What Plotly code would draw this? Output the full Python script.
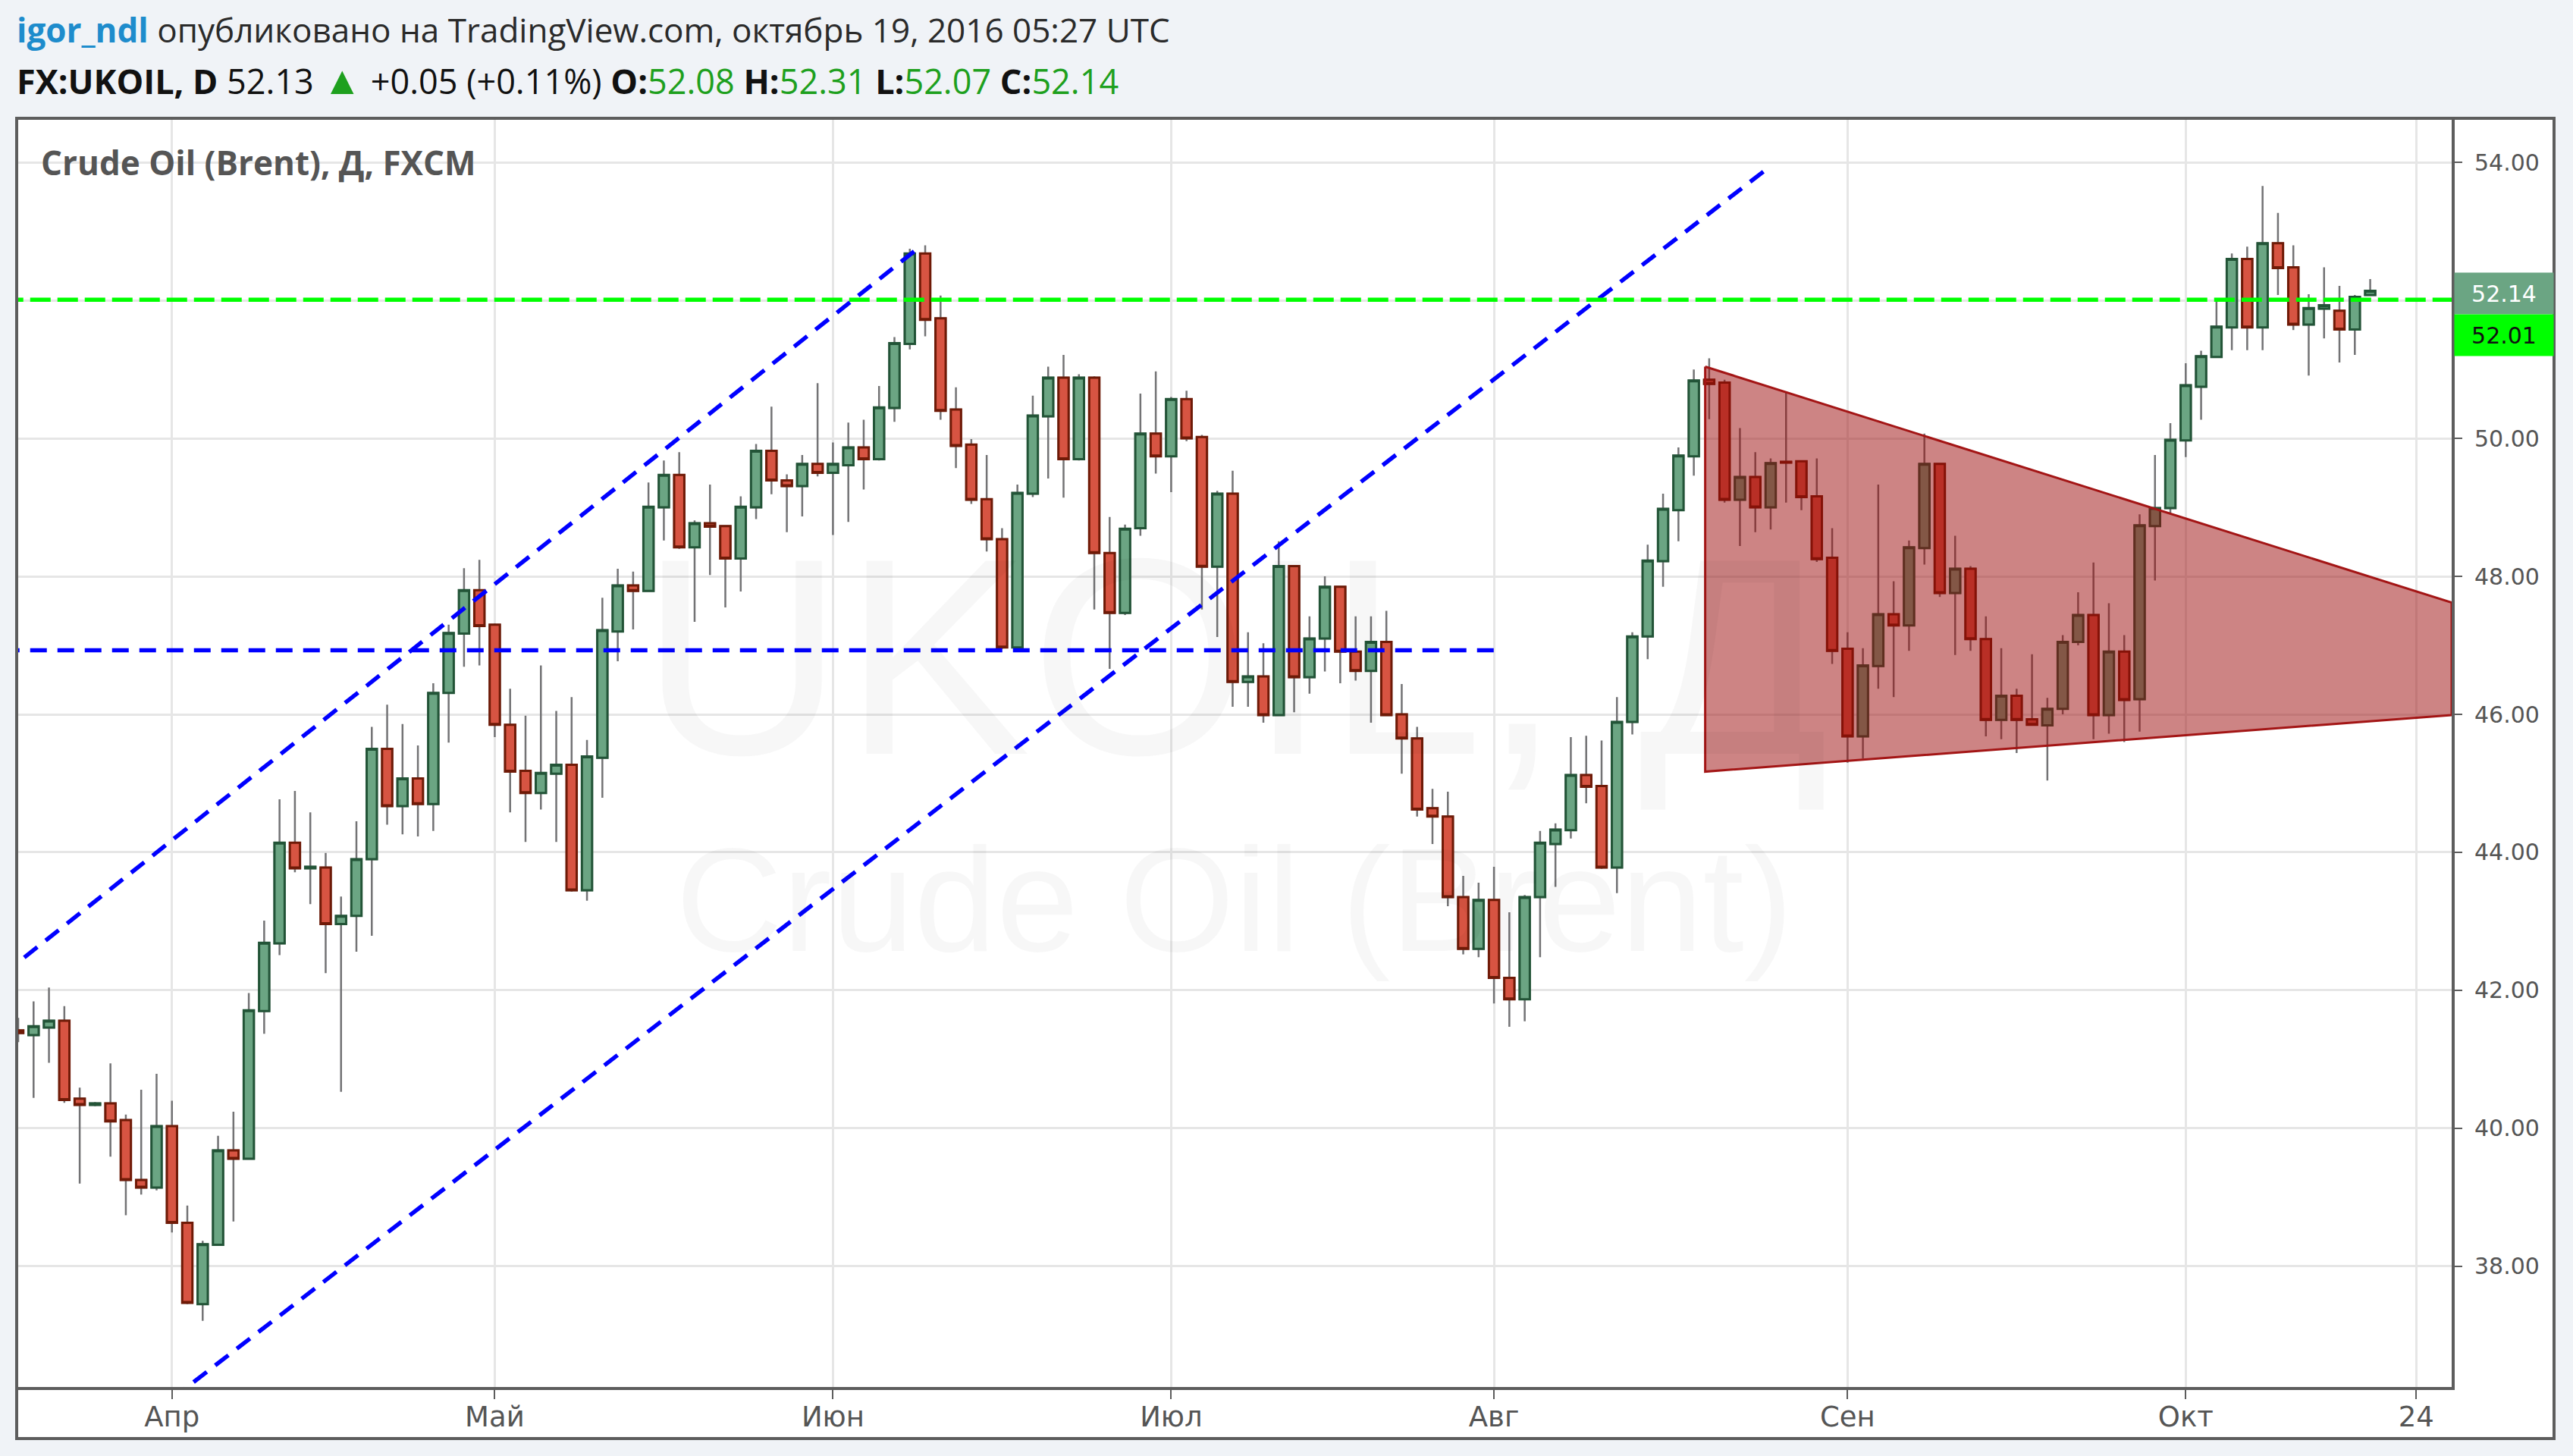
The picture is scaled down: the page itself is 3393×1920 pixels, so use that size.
import plotly.graph_objects as go
import pandas as pd

# ---------------- data ----------------
# trading days (weekdays) of the daily chart, FX:UKOIL
dates = pd.bdate_range("2016-03-18", "2016-10-31")

open_ = [41.42, 41.35, 41.46, 41.56, 40.43, 40.34, 40.36, 40.12, 39.25, 39.14,
         40.03, 38.63, 37.45, 38.31, 39.68, 39.56, 41.70, 42.68, 44.14, 43.77,
         43.78, 42.96, 43.08, 43.90, 45.50, 44.67, 45.07, 44.70, 46.31, 47.17,
         47.80, 47.30, 45.85, 45.18, 44.86, 45.14, 45.27, 43.45, 45.37, 47.20,
         47.87, 47.79, 49.00, 49.47, 48.42, 48.77, 48.73, 48.26, 49.00, 49.82,
         49.39, 49.31, 49.63, 49.50, 49.61, 49.87, 49.70, 50.44, 51.37, 52.68,
         51.74, 50.42, 49.91, 49.12, 48.54, 46.97, 49.20, 50.32, 50.88, 49.70,
         50.88, 48.34, 47.47, 48.70, 50.07, 49.74, 50.57, 50.02, 48.14, 49.20,
         46.47, 46.55, 45.99, 48.15, 46.54, 47.10, 47.85, 46.91, 46.63, 47.05,
         46.00, 45.65, 44.64, 44.52, 43.35, 42.60, 43.31, 42.18, 41.87, 43.35,
         44.12, 44.32, 45.12, 44.96, 43.78, 45.89, 47.13, 48.22, 48.96, 49.74,
         50.85, 50.81, 49.11, 49.44, 49.00, 49.66, 49.67, 49.16, 48.27, 46.95,
         45.68, 46.70, 47.45, 47.29, 48.41, 49.63, 47.76, 48.11, 47.09, 45.92,
         46.27, 45.93, 45.84, 46.08, 47.05, 47.44, 45.99, 46.91, 46.22, 48.73,
         48.99, 49.97, 50.75, 51.18, 51.61, 52.60, 51.61, 52.83, 52.48, 51.65,
         51.88, 51.85, 51.58, 52.08]
high = [41.60, 41.84, 42.04, 41.77, 40.59, 40.38, 40.94, 40.20, 40.56, 40.79,
        40.40, 38.88, 38.37, 39.89, 40.24, 41.96, 43.01, 44.77, 44.89, 44.58,
        43.99, 43.36, 44.45, 45.82, 46.14, 45.86, 45.55, 46.45, 47.30, 48.12,
        48.24, 47.32, 46.37, 45.98, 46.71, 46.05, 46.25, 45.63, 47.69, 48.11,
        48.07, 49.36, 49.68, 49.80, 48.81, 49.33, 48.74, 49.16, 49.92, 50.46,
        49.48, 49.76, 50.80, 49.94, 50.23, 50.27, 50.76, 51.47, 52.75, 52.80,
        52.07, 50.74, 49.99, 49.76, 48.70, 49.33, 50.62, 51.04, 51.21, 50.93,
        50.90, 48.86, 48.75, 50.65, 50.97, 50.60, 50.69, 50.05, 49.24, 49.53,
        47.19, 47.03, 48.51, 48.16, 47.42, 48.00, 47.86, 47.42, 47.42, 47.50,
        46.44, 45.82, 44.92, 44.88, 43.66, 43.56, 43.79, 43.13, 43.38, 44.31,
        44.42, 45.67, 45.69, 45.62, 46.25, 47.19, 48.46, 49.20, 49.87, 51.00,
        51.16, 50.85, 50.15, 49.80, 49.71, 50.66, 49.68, 49.71, 48.70, 47.19,
        46.96, 49.33, 47.93, 48.52, 50.07, 49.64, 48.59, 48.15, 47.42, 46.96,
        46.37, 46.87, 46.24, 47.15, 47.77, 48.20, 47.61, 47.15, 48.90, 49.76,
        50.22, 51.09, 51.27, 51.99, 52.68, 52.78, 53.66, 53.27, 52.80, 52.09,
        52.48, 52.21, 52.08, 52.31]
low = [41.25, 40.44, 40.95, 40.37, 39.20, 40.32, 39.59, 38.74, 39.04, 39.10,
       38.49, 37.45, 37.21, 38.30, 38.65, 39.55, 41.37, 42.51, 43.71, 43.25,
       42.25, 40.53, 42.56, 42.79, 44.40, 44.26, 44.23, 44.31, 45.59, 46.69,
       46.71, 45.67, 44.58, 44.15, 44.62, 44.15, 43.43, 43.30, 44.79, 46.77,
       47.23, 47.78, 48.52, 48.40, 47.34, 48.02, 47.55, 47.78, 48.83, 49.19,
       48.64, 48.87, 49.45, 48.60, 48.79, 49.26, 49.68, 50.24, 51.29, 51.48,
       50.27, 49.57, 49.05, 48.36, 46.95, 46.95, 49.15, 49.42, 49.14, 49.68,
       47.52, 46.66, 47.44, 48.59, 49.49, 49.22, 49.96, 47.52, 47.12, 46.11,
       46.11, 45.88, 45.98, 46.03, 46.30, 46.62, 46.45, 46.49, 45.88, 45.98,
       45.14, 44.52, 44.12, 43.22, 42.52, 42.48, 41.81, 41.47, 41.55, 42.48,
       43.50, 44.20, 44.71, 43.76, 43.41, 45.71, 46.80, 47.85, 48.51, 49.46,
       50.28, 49.07, 48.44, 48.64, 48.68, 49.07, 48.96, 48.21, 46.73, 45.30,
       45.36, 46.37, 46.25, 46.92, 48.17, 47.70, 46.86, 46.92, 45.68, 45.64,
       45.44, 45.84, 45.04, 46.00, 47.00, 45.64, 45.72, 45.60, 45.75, 47.94,
       48.92, 49.73, 50.27, 51.17, 51.28, 51.28, 51.28, 52.08, 51.57, 50.91,
       51.45, 51.10, 51.21, 52.07]
close = [41.38, 41.48, 41.56, 40.41, 40.34, 40.36, 40.10, 39.25, 39.14, 40.03,
         38.63, 37.47, 38.32, 39.68, 39.56, 41.71, 42.69, 44.14, 43.77, 43.79,
         42.96, 43.08, 43.90, 45.50, 44.67, 45.07, 44.70, 46.31, 47.18, 47.80,
         47.28, 45.85, 45.17, 44.86, 45.15, 45.27, 43.45, 45.39, 47.22, 47.87,
         47.79, 49.01, 49.47, 48.42, 48.77, 48.72, 48.26, 49.01, 49.82, 49.39,
         49.31, 49.63, 49.50, 49.63, 49.87, 49.70, 50.45, 51.38, 52.68, 51.72,
         50.40, 49.89, 49.11, 48.54, 46.97, 49.21, 50.33, 50.88, 49.70, 50.88,
         48.34, 47.47, 48.69, 50.07, 49.74, 50.57, 50.00, 48.14, 49.20, 46.47,
         46.55, 45.99, 48.15, 46.54, 47.10, 47.85, 46.91, 46.63, 47.05, 45.99,
         45.65, 44.62, 44.52, 43.35, 42.60, 43.31, 42.18, 41.87, 43.35, 44.14,
         44.33, 45.12, 44.95, 43.78, 45.89, 47.13, 48.23, 48.98, 49.75, 50.84,
         50.79, 49.11, 49.44, 49.00, 49.64, 49.65, 49.15, 48.25, 46.92, 45.68,
         46.71, 47.45, 47.29, 48.42, 49.63, 47.76, 48.11, 47.09, 45.92, 46.27,
         45.92, 45.85, 46.08, 47.05, 47.44, 45.99, 46.91, 46.21, 48.74, 48.99,
         49.98, 50.77, 51.19, 51.62, 52.60, 51.61, 52.83, 52.47, 51.65, 51.89,
         51.93, 51.58, 52.05, 52.14]

tick_dates = ["2016-04-01", "2016-05-02", "2016-06-01", "2016-07-01",
              "2016-08-01", "2016-09-01", "2016-10-03", "2016-10-24"]
tick_labels = ["Апр", "Май", "Июн", "Июл", "Авг", "Сен", "Окт", "24"]
price_ticks = [38, 40, 42, 44, 46, 48, 50, 52, 54]
price_tick_labels = ["38.00", "40.00", "42.00", "44.00", "46.00", "48.00", "50.00", "", "54.00"]

# drawings (x in trading-day index, y in price)
upper_channel_x = [-1.0, 58.5]
upper_channel_y = [42.23, 52.75]
lower_channel_x = [10.0, 113.6]
lower_channel_y = [36.08, 53.88]
support_x = [-1.0, 96.6]
support_y = [46.93, 46.93]
level_x = [-1.0, 160.0]
level_y = [52.01, 52.01]
triangle_x = [109.74, 158.3, 158.3, 109.74, 109.74]
triangle_y = [51.04, 47.62, 45.99, 45.17, 51.04]
last_price = 52.14
level_price = 52.01

x_range = [-0.1, 158.3]
y_range = [36.25, 54.64]

# ---------------- figure ----------------
n = len(open_)
x = list(range(n))
date_index = {d.strftime("%Y-%m-%d"): i for i, d in enumerate(dates)}
tickvals = [date_index[d] for d in tick_dates]

UP_FILL, UP_LINE = "#6ba583", "#225437"
DN_FILL, DN_LINE = "#d75442", "#6f1a07"
WICK = "#737375"

body_hi = [max(o, c) for o, c in zip(open_, close)]
body_lo = [min(o, c) for o, c in zip(open_, close)]

fig = go.Figure()
# wicks
fig.add_trace(go.Candlestick(
    x=x, open=open_, high=high, low=low, close=close,
    increasing=dict(line=dict(color=WICK, width=2.5), fillcolor=UP_FILL),
    decreasing=dict(line=dict(color=WICK, width=2.5), fillcolor=DN_FILL),
    whiskerwidth=0, hoverinfo="skip", showlegend=False))
# bodies
fig.add_trace(go.Candlestick(
    x=x, open=open_, high=body_hi, low=body_lo, close=close,
    increasing=dict(line=dict(color=UP_LINE, width=3), fillcolor=UP_FILL),
    decreasing=dict(line=dict(color=DN_LINE, width=3), fillcolor=DN_FILL),
    whiskerwidth=0, hoverinfo="skip", showlegend=False))

# triangle
fig.add_trace(go.Scatter(x=triangle_x, y=triangle_y, mode="lines", fill="toself",
                         fillcolor="rgba(155,10,10,0.5)",
                         line=dict(color="#a31515", width=3), hoverinfo="skip", showlegend=False))
# blue dashed lines
for lx, ly in [(upper_channel_x, upper_channel_y), (lower_channel_x, lower_channel_y),
               (support_x, support_y)]:
    fig.add_trace(go.Scatter(x=lx, y=ly, mode="lines",
                             line=dict(color="#0000ff", width=5.5, dash="22px,14px"),
                             hoverinfo="skip", showlegend=False))
# green level
fig.add_trace(go.Scatter(x=level_x, y=level_y, mode="lines",
                         line=dict(color="#00ff00", width=5.5, dash="27px,9px"),
                         hoverinfo="skip", showlegend=False))

W, H = 3393, 1920
L, R, T, B = 22, 3233, 156, 1829
FR, FB = 3368, 1897


def px(xp):
    return (xp - L) / (R - L)


def py(yp):
    return (B - yp) / (B - T)


AX = "#5d5d5d"
YTICKFONT = dict(family="DejaVu Sans", size=30, color="#555555")
XTICKFONT = dict(family="DejaVu Sans", size=37, color="#555555")

fig.update_layout(
    width=W, height=H,
    margin=dict(l=L, r=W - R, t=T, b=H - B, pad=0),
    paper_bgcolor="#f0f3f7", plot_bgcolor="white",
    showlegend=False, boxgap=0.3, boxgroupgap=0.05,
    xaxis=dict(range=x_range, tickmode="array", tickvals=tickvals, ticktext=tick_labels,
               showgrid=True, gridcolor="#e6e6e6", gridwidth=3, zeroline=False,
               showline=True, linecolor=AX, linewidth=4,
               ticks="outside", ticklen=12, tickwidth=2, tickcolor=AX,
               tickfont=XTICKFONT, ticklabelstandoff=-8,
               rangeslider=dict(visible=False), fixedrange=True),
    yaxis=dict(range=y_range, side="right", tickmode="array", tickvals=price_ticks,
               ticktext=price_tick_labels, showgrid=True, gridcolor="#e6e6e6", gridwidth=3,
               zeroline=False, showline=True, linecolor=AX, linewidth=4,
               ticks="outside", ticklen=10, tickwidth=2, tickcolor=AX,
               tickfont=YTICKFONT, ticklabelstandoff=10, fixedrange=True),
)

# white chart panel and frame
fig.add_shape(type="rect", xref="paper", yref="paper", x0=px(L), x1=px(FR), y0=py(FB), y1=py(T),
              fillcolor="white", line=dict(width=0), layer="below")
fig.add_shape(type="rect", xref="paper", yref="paper", x0=px(L), x1=px(FR), y0=py(FB), y1=py(T),
              fillcolor="rgba(0,0,0,0)", line=dict(color=AX, width=4), layer="above")

anns = []
# watermark
anns.append(dict(x=px(1628), y=py(866), xref="paper", yref="paper", text="UKOIL, Д",
                 showarrow=False, font=dict(family="Liberation Sans", size=370, color="rgba(0,0,0,0.03)"),
                 xanchor="center", yanchor="middle"))
anns.append(dict(x=px(1628), y=py(1186), xref="paper", yref="paper", text="Crude Oil (Brent)",
                 showarrow=False, font=dict(family="Liberation Sans", size=195, color="rgba(0,0,0,0.03)"),
                 xanchor="center", yanchor="middle"))
# chart title
anns.append(dict(x=px(52), y=py(214), xref="paper", yref="paper", text="<b>Crude Oil (Brent), Д, FXCM</b>",
                 showarrow=False, font=dict(family="Open Sans", size=44, color="#555555"),
                 xanchor="left", yanchor="middle"))
# header
anns.append(dict(x=px(20), y=py(39), xref="paper", yref="paper",
                 text="<span style='color:#1e8ccc'><b>igor_ndl</b></span> опубликовано на TradingView.com, октябрь 19, 2016 05:27 UTC",
                 showarrow=False, font=dict(family="Open Sans", size=44, color="#2a2a2a"),
                 xanchor="left", yanchor="middle"))
G = "#1ea01e"
hdr2 = ("<b>FX:UKOIL, D</b> 52.13 <span style='color:%s;font-size:52px'>▲</span> +0.05 (+0.11%%) "
        "<b>O:</b><span style='color:%s'>52.08</span> <b>H:</b><span style='color:%s'>52.31</span> "
        "<b>L:</b><span style='color:%s'>52.07</span> <b>C:</b><span style='color:%s'>52.14</span>") % (G, G, G, G, G)
anns.append(dict(x=px(20), y=py(104), xref="paper", yref="paper", text=hdr2,
                 showarrow=False, font=dict(family="Open Sans", size=45, color="#111111"),
                 xanchor="left", yanchor="middle"))
# price labels
anns.append(dict(x=1, xref="paper", xanchor="left", xshift=3, y=last_price, yref="y", yanchor="middle",
                 yshift=-4, text="52.14", showarrow=False, bgcolor=UP_FILL, width=130, height=54,
                 borderpad=0, align="center", font=dict(family="DejaVu Sans", size=30, color="white")))
anns.append(dict(x=1, xref="paper", xanchor="left", xshift=3, y=level_price, yref="y", yanchor="middle",
                 yshift=-47, text="52.01", showarrow=False, bgcolor="#00ff00", width=130, height=54,
                 borderpad=0, align="center", font=dict(family="DejaVu Sans", size=30, color="#111111")))
fig.update_layout(annotations=anns)

fig.write_html("out.html", include_plotlyjs=True, full_html=True,
               config={"displayModeBar": False},
               post_script="document.body.style.margin='0';document.body.style.overflow='hidden';")
